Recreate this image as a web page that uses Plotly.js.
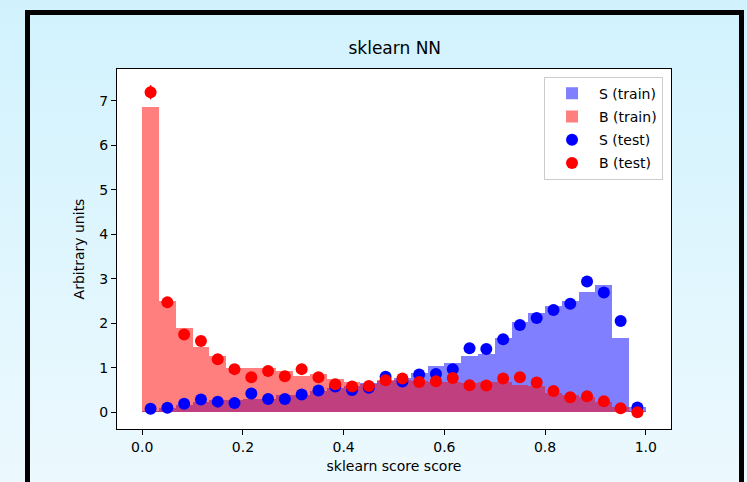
<!DOCTYPE html>
<html>
<head>
<meta charset="utf-8">
<script src="https://cdn.plot.ly/plotly-3.0.1.min.js"></script>
<style>
  html, body { margin:0; padding:0; width:747px; height:482px; overflow:hidden;
    background: linear-gradient(to bottom, #d1f2fd 0%, #ecf9fe 100%); }
  #frame { position:absolute; left:25px; top:9.5px; width:719px; height:600px;
    box-sizing:border-box; border:5.5px solid #000; }
  #plot { position:absolute; left:0; top:0; width:747px; height:482px; }
</style>
</head>
<body>
<div id="frame"></div>
<div id="plot"></div>
<script>
// bin centres of the 30 score bins on [0, 1]
const binCenters = [0.0167, 0.05, 0.0833, 0.1167, 0.15, 0.1833, 0.2167, 0.25, 0.2833, 0.3167,
                    0.35, 0.3833, 0.4167, 0.45, 0.4833, 0.5167, 0.55, 0.5833, 0.6167, 0.65,
                    0.6833, 0.7167, 0.75, 0.7833, 0.8167, 0.85, 0.8833, 0.9167, 0.95, 0.9833];

// S (train) histogram heights
const sTrain = [0.03, 0.09, 0.16, 0.24, 0.28, 0.28, 0.29, 0.29, 0.39, 0.40,
                0.47, 0.55, 0.60, 0.65, 0.70, 0.76, 0.88, 1.03, 1.10, 1.27,
                1.30, 1.66, 2.02, 2.23, 2.38, 2.50, 2.70, 2.86, 1.66, 0.11];
// B (train) histogram heights
const bTrain = [6.87, 2.51, 1.90, 1.47, 1.27, 1.00, 1.00, 0.99, 0.93, 0.82,
                0.85, 0.74, 0.69, 0.63, 0.73, 0.72, 0.71, 0.67, 0.69, 0.65,
                0.69, 0.69, 0.61, 0.59, 0.43, 0.40, 0.35, 0.24, 0.13, 0.02];
// S (test) points
const sTest = [0.08, 0.10, 0.19, 0.29, 0.24, 0.21, 0.42, 0.30, 0.30, 0.40,
               0.49, 0.58, 0.50, 0.55, 0.80, 0.69, 0.85, 0.86, 0.97, 1.44,
               1.42, 1.64, 1.96, 2.12, 2.30, 2.44, 2.94, 2.69, 2.05, 0.11];
const sTestErr = [0.02, 0.02, 0.03, 0.04, 0.03, 0.03, 0.04, 0.04, 0.04, 0.04,
                  0.05, 0.05, 0.05, 0.05, 0.06, 0.06, 0.06, 0.06, 0.07, 0.08,
                  0.08, 0.09, 0.10, 0.10, 0.11, 0.11, 0.12, 0.12, 0.10, 0.02];
// B (test) points
const bTest = [7.19, 2.47, 1.75, 1.60, 1.19, 0.97, 0.79, 0.93, 0.81, 0.97,
               0.79, 0.63, 0.58, 0.59, 0.72, 0.76, 0.68, 0.70, 0.77, 0.61,
               0.60, 0.76, 0.79, 0.67, 0.48, 0.34, 0.36, 0.25, 0.09, 0.00];
const bTestErr = [0.16, 0.09, 0.08, 0.07, 0.06, 0.06, 0.05, 0.05, 0.05, 0.06,
                  0.05, 0.05, 0.04, 0.04, 0.05, 0.05, 0.05, 0.05, 0.05, 0.04,
                  0.04, 0.05, 0.05, 0.05, 0.04, 0.03, 0.03, 0.03, 0.02, 0.01];

const xTickVals = [0.0, 0.2, 0.4, 0.6, 0.8, 1.0];
const yTickVals = [0, 1, 2, 3, 4, 5, 6, 7];

const FONT = 'DejaVu Sans, sans-serif';

const traces = [
  { type:'bar', x:binCenters, y:sTrain, width:1/30, name:'S (train)', legendgroup:'a',
    marker:{color:'rgba(0,0,255,0.5)', line:{width:0}}, hoverinfo:'skip' },
  { type:'bar', x:binCenters, y:bTrain, width:1/30, name:'B (train)', legendgroup:'b',
    marker:{color:'rgba(255,0,0,0.5)', line:{width:0}}, hoverinfo:'skip' },
  { type:'scatter', mode:'markers', x:binCenters, y:sTest, name:'S (test)', legendgroup:'c',
    marker:{color:'#0000ff', size:12},
    error_y:{type:'data', array:sTestErr, visible:true, color:'#0000ff', thickness:1.5, width:0} },
  { type:'scatter', mode:'markers', x:binCenters, y:bTest, name:'B (test)', legendgroup:'d',
    marker:{color:'#ff0000', size:12},
    error_y:{type:'data', array:bTestErr, visible:true, color:'#ff0000', thickness:1.5, width:0} }
];

const layout = {
  width:747, height:482,
  paper_bgcolor:'rgba(0,0,0,0)', plot_bgcolor:'#ffffff',
  margin:{l:116.5, r:76, t:69.3, b:53, pad:0},
  barmode:'overlay', bargap:0,
  font:{family:FONT, size:14, color:'#000'},
  title:{text:'sklearn NN', font:{family:FONT, size:17, color:'#000'},
         x:0.5285, xanchor:'center', y:1 - 48/482, yanchor:'middle'},
  xaxis:{range:[-0.05, 1.05], tickvals:xTickVals, ticktext:xTickVals.map(v=>v.toFixed(1)),
         ticks:'outside', ticklen:5, tickwidth:1, tickcolor:'#000',
         showline:true, linecolor:'#000', linewidth:1, mirror:true,
         showgrid:false, zeroline:false,
         title:{text:'sklearn score score', font:{family:FONT, size:14}, standoff:7}},
  yaxis:{range:[-0.375, 7.713], tickvals:yTickVals,
         ticks:'outside', ticklen:5, tickwidth:1, tickcolor:'#000',
         showline:true, linecolor:'#000', linewidth:1, mirror:true,
         showgrid:false, zeroline:false,
         title:{text:'Arbitrary units', font:{family:FONT, size:14}, standoff:11}},
  legend:{x:0.9856, xanchor:'right', y:0.9786, yanchor:'top',
          bgcolor:'rgba(255,255,255,0.8)', bordercolor:'#cccccc', borderwidth:1,
          font:{family:FONT, size:14}, traceorder:'grouped', tracegroupgap:2,
          itemwidth:44},
  showlegend:true
};

Plotly.newPlot('plot', traces, layout, {staticPlot:true, displayModeBar:false});
</script>
</body>
</html>
